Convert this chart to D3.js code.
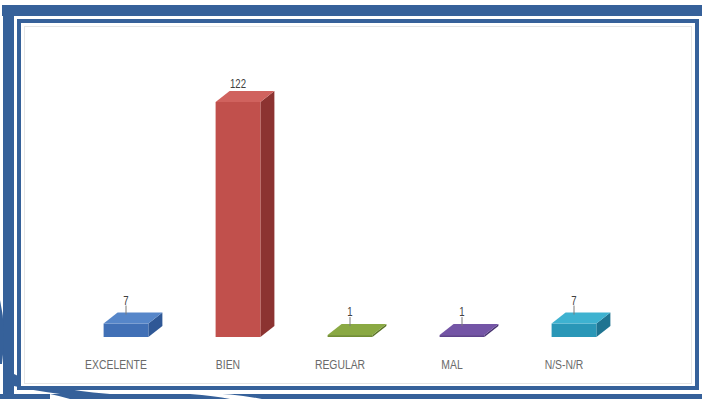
<!DOCTYPE html>
<html>
<head>
<meta charset="utf-8">
<script src="https://cdn.jsdelivr.net/npm/d3@7"></script>
<style>
  html, body { margin: 0; padding: 0; background: #ffffff; }
  svg { display: block; }
</style>
</head>
<body>
<svg id="chart" width="702" height="399"></svg>
<script>
// Survey answers and their counts
const categories = ["EXCELENTE", "BIEN", "REGULAR", "MAL", "N/S-N/R"];
const values = [7, 122, 1, 1, 7];
// Face colours for each column: top, front, side
const topColors   = ["#5686c9", "#d0625e", "#8aa943", "#7455a6", "#3eb2d0"];
const frontColors = ["#4170b6", "#c1504c", "#728f33", "#5f438d", "#2a97b7"];
const sideColors  = ["#2f5896", "#8c3331", "#5a7327", "#473270", "#1f7491"];

const W = 702, H = 399;
const frameBlue = "#36619a";
const fontFamily = "'Liberation Sans Narrow', 'Liberation Sans', Arial, sans-serif";
const narrow = "scale(0.8,1)";
const svg = d3.select("#chart");

// ---- decorative page frame ----
const frame = svg.append("g");
frame.append("rect").attr("x", 0).attr("y", 0).attr("width", W).attr("height", H).attr("fill", "#ffffff");
// thick outer band: top and left
frame.append("rect").attr("x", 2).attr("y", 5).attr("width", W - 2).attr("height", 11).attr("fill", frameBlue);
frame.append("rect").attr("x", 3).attr("y", 5).attr("width", 11).attr("height", H - 5).attr("fill", frameBlue);
// bottom band
frame.append("rect").attr("x", 0).attr("y", 394).attr("width", W).attr("height", 5).attr("fill", frameBlue);
// swooshes at the lower-left corner
frame.append("path")
  .attr("d", "M0,300 Q7,330 2,364 L0,364 Z")
  .attr("fill", frameBlue);
frame.append("path")
  .attr("d", "M14,374 Q40,388 110,394 L60,394 Q30,390 14,386 Z")
  .attr("fill", frameBlue);
frame.append("path")
  .attr("d", "M190,394 Q225,392 262,399 L230,399 Q215,396 190,394 Z")
  .attr("fill", "#ffffff");
frame.append("path")
  .attr("d", "M50,394 Q60,396 70,399 L50,399 Z")
  .attr("fill", "#ffffff");
// inner frame line
frame.append("rect").attr("x", 19).attr("y", 21).attr("width", 678).attr("height", 367)
  .attr("fill", "#ffffff").attr("stroke", frameBlue).attr("stroke-width", 4);
// faint chart-area border
frame.append("rect").attr("x", 24.5).attr("y", 26.5).attr("width", 667).attr("height", 357)
  .attr("fill", "none").attr("stroke", "#e6e6e6").attr("stroke-width", 1);

// ---- scales ----
const x = d3.scaleBand()
  .domain(categories)
  .range([70, 630])
  .paddingInner(0.6)
  .paddingOuter(0.3);
const y = d3.scaleLinear()
  .domain([0, 122])
  .range([337, 102]);

// depth of the 3D extrusion
const dx = 14, dy = -11;

const data = categories.map((c, i) => ({ c, v: values[i], i }));
const bars = svg.append("g").selectAll("g.bar").data(data).join("g").attr("class", "bar");

bars.each(function (d) {
  const g = d3.select(this);
  const x0 = x(d.c), w = x.bandwidth();
  const yT = y(d.v), yB = y(0);
  // side face
  g.append("path")
    .attr("d", `M${x0 + w},${yT} L${x0 + w + dx},${yT + dy} L${x0 + w + dx},${yB + dy} L${x0 + w},${yB} Z`)
    .attr("fill", sideColors[d.i]);
  // front face
  g.append("rect")
    .attr("x", x0).attr("y", yT)
    .attr("width", w).attr("height", Math.max(1.5, yB - yT))
    .attr("fill", frontColors[d.i]);
  // top face
  g.append("path")
    .attr("d", `M${x0},${yT} L${x0 + dx},${yT + dy} L${x0 + w + dx},${yT + dy} L${x0 + w},${yT} Z`)
    .attr("fill", topColors[d.i]);

  // value label, with a short leader line for the low columns
  const cx = x0 + w / 2;
  const backTop = yT + dy;
  const small = (yB - yT) < 30;
  const ly = small ? backTop - 8 : backTop - 3;
  if (small) {
    g.append("line")
      .attr("x1", cx).attr("x2", cx)
      .attr("y1", ly + 1).attr("y2", backTop + 2)
      .attr("stroke", "#7a7a7a").attr("stroke-width", 1);
  }
  g.append("g")
    .attr("transform", `translate(${cx},${ly})`)
    .append("text")
    .attr("transform", narrow)
    .attr("text-anchor", "middle")
    .attr("font-family", fontFamily)
    .attr("font-size", 12)
    .attr("fill", "#404040")
    .text(d.v);
});

// ---- category axis labels ----
const xAxis = d3.axisBottom(x).tickSize(0).tickPadding(0);
const axisG = svg.append("g").attr("transform", "translate(-10,360)").call(xAxis);
axisG.select(".domain").remove();
axisG.selectAll("text")
  .attr("dy", "0.7em")
  .attr("transform", narrow)
  .attr("font-family", fontFamily)
  .attr("font-size", 13)
  .attr("fill", "#6a6a6a");
</script>
</body>
</html>
